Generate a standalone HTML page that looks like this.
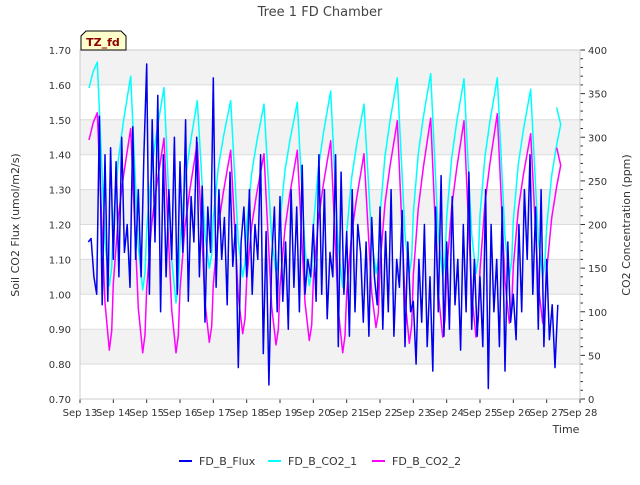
<!DOCTYPE html>
<html><head><meta charset="utf-8"><style>
body{margin:0;background:#fff;font-family:"Liberation Sans","DejaVu Sans",sans-serif}
svg text{font-family:"DejaVu Sans","Liberation Sans",sans-serif}
</style></head><body>
<svg id="chart" width="640" height="480" xmlns="http://www.w3.org/2000/svg">
<text x="320" y="16" text-anchor="middle" font-size="13" fill="#444">Tree 1 FD Chamber</text>
<g id="bands"></g><g id="axes"></g><g id="series"></g>
<g>
<path d="M81,50 L81,36 L86,31 L121,31 L126,36 L126,50 Z" fill="#ffffcc" stroke="#000" stroke-width="1"/>
<text x="103" y="46" text-anchor="middle" font-size="11" font-weight="bold" fill="#8b0000">TZ_fd</text></g>
<text x="19" y="225" transform="rotate(-90 19 225)" text-anchor="middle" font-size="11" fill="#333">Soil CO2 Flux (umol/m2/s)</text>
<text x="630" y="225" transform="rotate(-90 630 225)" text-anchor="middle" font-size="11" fill="#333">CO2 Concentration (ppm)</text>
<text x="566" y="433" text-anchor="middle" font-size="11" fill="#333">Time</text>
<g id="legend"></g>
</svg>
<script>
const xTickLabels=["Sep 13","Sep 14","Sep 15","Sep 16","Sep 17","Sep 18","Sep 19","Sep 20","Sep 21","Sep 22","Sep 23","Sep 24","Sep 25","Sep 26","Sep 27","Sep 28"];
const leftTicks=[0.70,0.80,0.90,1.00,1.10,1.20,1.30,1.40,1.50,1.60,1.70];
const rightTicks=[0,50,100,150,200,250,300,350,400];
const fluxStart=13.25, fluxStep=1/12;
const fluxValues=[1.15,1.16,1.05,1.00,1.51,0.97,1.40,0.98,1.42,
1.10,1.38,1.05,1.45,1.12,1.20,1.02,1.48,1.10,1.30,1.05,1.40,
1.66,1.00,1.50,1.15,1.57,0.95,1.40,1.05,1.30,1.10,1.45,1.00,
1.38,1.12,1.50,0.98,1.28,1.15,1.45,1.05,1.31,0.92,1.25,1.12,
1.62,1.02,1.30,1.10,1.22,0.97,1.35,1.08,1.20,0.79,1.15,1.25,
1.05,1.30,1.00,1.20,1.10,1.40,0.83,1.18,0.74,1.10,1.25,0.95,
1.28,0.98,1.15,0.90,1.30,1.02,1.25,0.95,1.37,1.00,1.10,1.05,
1.20,0.98,1.40,1.00,1.30,0.93,1.12,1.05,1.40,0.85,1.35,1.00,
1.18,0.88,1.30,0.95,1.20,1.12,0.92,1.15,0.88,1.22,1.05,0.97,
1.25,0.90,1.18,0.95,1.30,0.88,1.10,1.02,1.24,0.85,1.15,0.95,
0.98,0.80,1.10,0.92,1.20,0.85,1.05,0.78,1.25,0.95,1.34,0.88,
1.15,0.90,1.28,0.97,1.10,0.84,1.20,0.95,1.35,0.90,1.10,0.88,
1.05,0.85,1.30,0.73,1.20,0.95,1.10,0.85,1.25,0.78,1.15,0.92,
1.00,0.87,1.20,0.95,1.30,1.10,1.40,1.00,1.25,0.90,1.30,0.85,
1.10,0.87,0.97,0.79,0.97];
const co2Days=[13,14,15,16,17,18,19,20,21,22,23,24,25,26,27];
const co2Peaks1=[386,370,357,342,342,338,340,353,338,368,373,367,368,355,334];
const co2Troughs1=[130,125,110,150,140,145,130,128,144,144,141,144,140,140];
const co2Peaks2=[328,310,299,294,285,281,285,296,281,319,322,319,327,304,288];
const co2Troughs2=[56,53,53,65,75,62,67,53,82,64,71,71,87,87];

const NS="http://www.w3.org/2000/svg";
const X0=80,X1=580,Y0=50,Y1=399;
const xS=d=>X0+(d-13)/15*(X1-X0);
const yL=v=>Y1-(v-0.7)/1.0*(Y1-Y0);
const yR=v=>Y1-v/400*(Y1-Y0);
function mk(tag,attrs,parent){const e=document.createElementNS(NS,tag);for(const k in attrs)e.setAttribute(k,attrs[k]);parent.appendChild(e);return e;}
const bands=document.getElementById('bands'),axes=document.getElementById('axes'),series=document.getElementById('series'),legend=document.getElementById('legend');
mk('rect',{x:X0,y:Y0,width:X1-X0,height:Y1-Y0,fill:'#fff'},bands);
for(let i=0;i<leftTicks.length-1;i++){
  if(i%2===1){const r=mk('rect',{x:X0,y:yL(leftTicks[i+1]),width:X1-X0,height:yL(leftTicks[i])-yL(leftTicks[i+1]),fill:'#f2f2f2'},bands);
  
  }
}
leftTicks.forEach(v=>{mk('line',{x1:X0,x2:X1,y1:yL(v),y2:yL(v),stroke:'#dcdcdc','stroke-width':1},bands);
  const t=mk('text',{x:X0-9,y:yL(v)+4,'text-anchor':'end','font-size':10,fill:'#333'},axes);t.textContent=v.toFixed(2);
  
  
});
for(let v=0;v<=400;v+=10){mk('line',{x1:X1,x2:X1+(v%50===0?5:3),y1:yR(v),y2:yR(v),stroke:'#333','stroke-width':1},axes);}
rightTicks.forEach(v=>{const t=mk('text',{x:X1+8,y:yR(v)+4,'font-size':10,fill:'#333'},axes);t.textContent=v;
  
  
});
xTickLabels.forEach((s,i)=>{const x=xS(13+i);mk('line',{x1:x,x2:x,y1:Y1,y2:Y1+4,stroke:'#333'},axes);
  const t=mk('text',{x:x,y:Y1+17,'text-anchor':'middle','font-size':10,fill:'#333'},axes);t.textContent=s;
  
  
});
mk('rect',{x:X0,y:Y0,width:X1-X0,height:Y1-Y0,fill:'none',stroke:'#ccc'},axes);
function co2Pts(peaks,troughs){
  const pts=[[13.27,peaks[0]*0.9+troughs[0]*0.1-4],[13.4,peaks[0]*0.96+troughs[0]*0.04]];
  for(let i=0;i<co2Days.length;i++){const d=co2Days[i],p=peaks[i];
    if(i>0){const tp=troughs[i-1];
      pts.push([d+0.0,tp+(p-tp)*0.3],[d+0.15,tp+(p-tp)*0.6],[d+0.3,tp+(p-tp)*0.78],[d+0.42,tp+(p-tp)*0.9]);}
    if(i===co2Days.length-1){pts.push([d+0.3,p]);break;}
    pts.push([d+0.52,p]);const t=troughs[i];
    pts.push([d+0.62,p-(p-t)*0.35],[d+0.75,p-(p-t)*0.8],[d+0.88,t],[d+0.95,t+(p-t)*0.08]);}
  return pts;
}
function drawLine(pts,yF,color,name,w){
  const p=mk('polyline',{points:pts.map(q=>xS(q[0]).toFixed(1)+','+yF(q[1]).toFixed(1)).join(' '),fill:'none',stroke:color,'stroke-width':w,'stroke-linejoin':'round'},series);
  
  
}
drawLine(co2Pts(co2Peaks1,co2Troughs1),yR,'#00ffff','series-fd-b-co2-1',1.5);
drawLine(co2Pts(co2Peaks2,co2Troughs2),yR,'#ff00ff','series-fd-b-co2-2',1.5);
drawLine(fluxValues.map((v,i)=>[fluxStart+i*fluxStep,v]),yL,'#0000ee','series-fd-b-flux',1.5);
const legItems=[["FD_B_Flux","#0000ee",179],["FD_B_CO2_1","#00ffff",268],["FD_B_CO2_2","#ff00ff",372]];
legItems.forEach(l=>{const g=mk('g',{},legend);
  
  
  mk('line',{x1:l[2],x2:l[2]+13,y1:461,y2:461,stroke:l[1],'stroke-width':2},g);
  const t=mk('text',{x:l[2]+20,y:465,'font-size':11,fill:'#333'},g);t.textContent=l[0];});
</script>
</body></html>
